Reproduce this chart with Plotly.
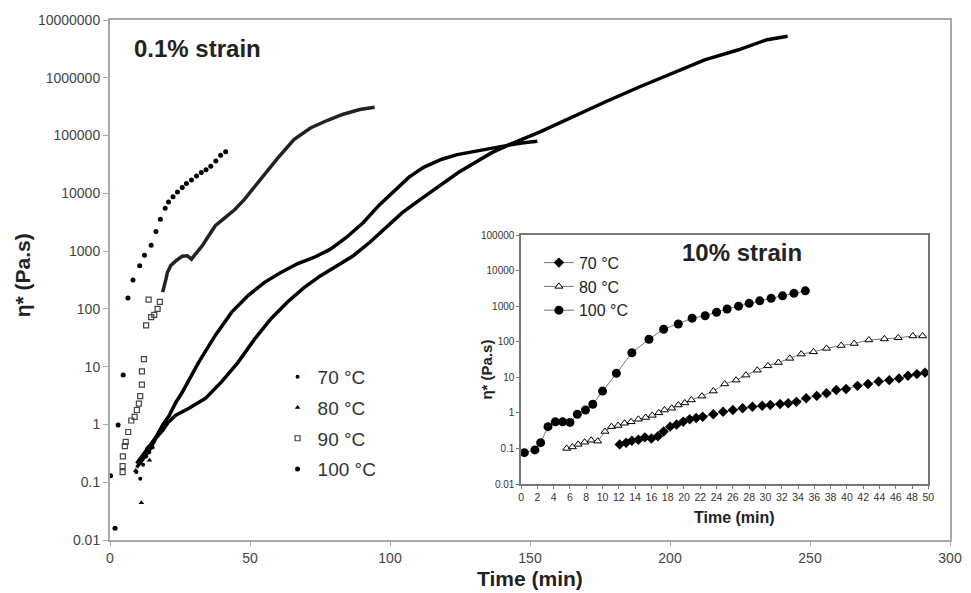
import plotly.graph_objects as go

# ---------------- main chart: 0.1% strain ----------------
t70_line = [9.5, 11, 12.5, 14, 15.5, 16.4, 18.8, 21, 23.5, 26, 28.2, 31, 34, 39.9, 45.8, 51.7, 57.5,
            63.4, 69.3, 75.1, 81, 86.9, 92.7, 98.6, 104.5, 111, 124.4, 136.2, 142, 153.8, 165.5,
            177.2, 189, 200.7, 212.4, 224.2, 234.7, 242]
eta70_line = [0.18, 0.22, 0.28, 0.35, 0.47, 0.58, 0.79, 1.12, 1.45, 1.66, 1.9, 2.3, 2.8, 5.5, 12.0,
              30.2, 67.6, 132, 234, 372, 562, 832, 1410, 2570, 4680, 7940, 22900, 50100, 67600,
              117000, 214000, 389000, 692000, 1175000, 2040000, 3020000, 4570000, 5250000]
t70_pts = [9.4, 10.8, 11.8, 12.9, 14.0, 15.2]
eta70_pts = [0.15, 0.115, 0.20, 0.28, 0.33, 0.40]

t80_line = [9.5, 11, 12.5, 14, 15.5, 16.4, 18.8, 21.1, 23.5, 25.8, 31.7, 37.6, 43.4, 49.3, 55.2, 61,
            66.9, 72.8, 78.6, 84.5, 90.4, 96.2, 102.1, 106.8, 112, 118.5, 124, 130.3, 136, 142, 147, 152.6]
eta80_line = [0.21, 0.26, 0.33, 0.42, 0.52, 0.60, 0.98, 1.41, 2.4, 3.6, 12.0, 34.7, 87, 170, 288, 427,
              603, 776, 1070, 1740, 3090, 6310, 11700, 19100, 28200, 38900, 46800, 53700, 60300,
              67600, 74100, 79400]
t80_pts = [9.2, 10.4, 11.2, 12.2, 13.4, 14.1, 15.3, 16.6]
eta80_pts = [0.16, 0.24, 0.044, 0.30, 0.40, 0.24, 0.50, 0.63]

t90_pts = [4.5, 4.5, 4.6, 5.3, 5.6, 6.5, 7.6, 8.8, 9.6, 10.3, 10.8, 11.4, 11.4, 12.1, 12.9, 13.8,
           14.7, 15.8, 17.0, 17.8]
eta90_pts = [0.15, 0.19, 0.28, 0.42, 0.50, 0.74, 1.17, 1.35, 1.78, 2.29, 3.09, 4.9, 8.3, 13.5, 52,
             145, 72, 79, 100, 132]
t90_line = [18.8, 19.1, 20.0, 20.5, 21.7, 23.5, 25.8, 27.6, 29.1, 30.5, 32.9, 35.2, 37.6, 41.1, 44.6,
            48.1, 52.8, 55.2, 59.9, 65.7, 71.6, 77.5, 83.3, 89.2, 94.5]
eta90_line = [195, 219, 331, 427, 562, 676, 813, 832, 724, 891, 1230, 1820, 2750, 3800, 5250, 7940,
              15100, 20900, 40700, 85100, 135000, 182000, 234000, 282000, 309000]

t100_pts = [0.2, 1.8, 2.9, 4.7, 6.4, 8.2, 10.6, 12.3, 14.7, 16.4, 18.0, 19.7, 20.9, 22.5, 24.1, 25.8,
            27.3, 29.1, 30.9, 32.6, 34.3, 36.0, 37.8, 39.5, 41.3]
eta100_pts = [0.13, 0.016, 0.98, 7.2, 155, 316, 560, 850, 1260, 2190, 3550, 5500, 7080, 8700, 10500,
              12600, 14800, 17000, 20000, 22900, 25700, 29500, 36300, 45700, 52500]

main_xticks = [0, 50, 100, 150, 200, 250, 300]
main_yticks = [0.01, 0.1, 1, 10, 100, 1000, 10000, 100000, 1000000, 10000000]
main_yticktext = ["0.01", "0.1", "1", "10", "100", "1000", "10000", "100000", "1000000", "10000000"]

# ---------------- inset: 10% strain ----------------
t70_in = [12.1, 12.9, 13.6, 14.4, 15.2, 16.0, 16.8, 17.5, 18.3, 19.1, 19.9, 20.7, 21.5, 22.3, 23.6,
          24.8, 26.0, 27.2, 28.4, 29.6, 30.6, 31.8, 32.8, 33.8, 35.0, 36.3, 37.5, 38.7, 39.9, 41.3,
          42.6, 43.9, 45.2, 46.4, 47.5, 48.6, 49.6]
eta70_in = [0.13, 0.145, 0.165, 0.175, 0.205, 0.19, 0.22, 0.30, 0.41, 0.47, 0.56, 0.66, 0.72, 0.78,
            0.91, 1.07, 1.2, 1.35, 1.48, 1.58, 1.66, 1.78, 1.86, 2.04, 2.57, 3.0, 3.55, 4.4, 4.7,
            5.75, 6.45, 7.6, 8.3, 9.3, 11.0, 12.3, 13.5]
t80_in = [5.6, 6.3, 7.0, 7.8, 8.6, 9.4, 10.3, 11.1, 11.9, 12.7, 13.5, 14.4, 15.3, 16.1, 16.9, 17.6,
          18.5, 19.3, 20.1, 20.9, 22.2, 23.6, 25.0, 26.4, 27.6, 29.0, 30.3, 31.6, 33.0, 34.4, 35.9,
          37.5, 39.3, 40.9, 42.7, 44.6, 46.3, 48.1, 49.3]
eta80_in = [0.10, 0.11, 0.13, 0.15, 0.17, 0.16, 0.30, 0.41, 0.44, 0.51, 0.56, 0.66, 0.74, 0.85, 1.0,
            1.2, 1.35, 1.66, 1.9, 2.3, 2.95, 4.1, 6.5, 8.3, 11.5, 15.8, 21, 26, 34, 45, 52, 65, 78,
            89, 112, 120, 129, 145, 145]
t100_in = [0.4, 1.7, 2.4, 3.3, 4.2, 5.1, 6.0, 6.9, 7.9, 8.8, 10.0, 11.7, 13.6, 15.7, 17.5, 19.3, 21.0,
           22.6, 24.0, 25.3, 26.7, 28.0, 29.3, 30.7, 32.1, 33.5, 34.9]
eta100_in = [0.076, 0.091, 0.145, 0.41, 0.56, 0.56, 0.54, 0.91, 1.2, 1.74, 4.1, 12.9, 49, 117, 224,
             316, 457, 537, 676, 832, 1000, 1200, 1410, 1660, 1950, 2290, 2690]

inset_xticks = list(range(0, 51, 2))
inset_yticks = [0.01, 0.1, 1, 10, 100, 1000, 10000, 100000]
inset_yticktext = ["0.01", "0.1", "1", "10", "100", "1000", "10000", "100000"]

FONT = "Arial, Liberation Sans, sans-serif"

fig = go.Figure()

# main curves (dense data drawn as thick lines)
fig.add_trace(go.Scatter(x=t70_line, y=eta70_line, mode="lines", line=dict(color="black", width=3.5),
                         showlegend=False, hoverinfo="skip"))
fig.add_trace(go.Scatter(x=t80_line, y=eta80_line, mode="lines", line=dict(color="black", width=3.5),
                         showlegend=False, hoverinfo="skip"))
fig.add_trace(go.Scatter(x=t90_line, y=eta90_line, mode="lines", line=dict(color="#222", width=3.5),
                         showlegend=False, hoverinfo="skip"))

# main marker series (legend)
fig.add_trace(go.Scatter(x=t70_pts, y=eta70_pts, mode="markers", name="70 °C", legendgroup="a",
                         marker=dict(symbol="circle", size=4, color="black")))
fig.add_trace(go.Scatter(x=t80_pts, y=eta80_pts, mode="markers", name="80 °C", legendgroup="b",
                         marker=dict(symbol="triangle-up", size=5, color="black")))
fig.add_trace(go.Scatter(x=t90_pts, y=eta90_pts, mode="markers", name="90 °C", legendgroup="c",
                         marker=dict(symbol="square-open", size=5, color="#444", line=dict(width=1.2))))
fig.add_trace(go.Scatter(x=t100_pts, y=eta100_pts, mode="markers", name="100 °C", legendgroup="d",
                         marker=dict(symbol="circle", size=5, color="black")))

# inset series
fig.add_trace(go.Scatter(x=t70_in, y=eta70_in, mode="lines+markers", name="70 °C", xaxis="x2", yaxis="y2",
                         legend="legend2", line=dict(color="#777", width=1),
                         marker=dict(symbol="diamond", size=8, color="black")))
fig.add_trace(go.Scatter(x=t80_in, y=eta80_in, mode="lines+markers", name="80 °C", xaxis="x2", yaxis="y2",
                         legend="legend2", line=dict(color="#777", width=1),
                         marker=dict(symbol="triangle-up", size=7, color="white",
                                     line=dict(color="black", width=1))))
fig.add_trace(go.Scatter(x=t100_in, y=eta100_in, mode="lines+markers", name="100 °C", xaxis="x2", yaxis="y2",
                         legend="legend2", line=dict(color="#777", width=1),
                         marker=dict(symbol="circle", size=9, color="black")))

fig.update_layout(
    width=971, height=593,
    margin=dict(l=110, r=9, t=20, b=53),
    paper_bgcolor="white", plot_bgcolor="white",
    font=dict(family=FONT, color="#333"),
    xaxis=dict(range=[0, 300], tickvals=main_xticks, showgrid=False, zeroline=False,
               showline=True, linecolor="#a8a8a8", linewidth=2, mirror=True,
               ticks="outside", ticklen=4, tickcolor="#a8a8a8",
               tickfont=dict(size=14, color="#444")),
    yaxis=dict(type="log", range=[-2, 7], tickvals=main_yticks, ticktext=main_yticktext,
               showgrid=False, zeroline=False, showline=True, linecolor="#a8a8a8", linewidth=2,
               mirror=True, ticks="outside", ticklen=5, tickcolor="#a8a8a8",
               tickfont=dict(size=14, color="#444")),
    xaxis2=dict(domain=[0.4894, 0.9742], anchor="y2", range=[0, 50], tickvals=inset_xticks,
                showgrid=False, zeroline=False, showline=True, linecolor="#777", linewidth=1.5,
                mirror=True, ticks="outside", ticklen=3, tickcolor="#777",
                tickfont=dict(size=10.5, color="#333")),
    yaxis2=dict(domain=[0.1077, 0.5865], anchor="x2", type="log", range=[-2, 5],
                tickvals=inset_yticks, ticktext=inset_yticktext, showgrid=False, zeroline=False,
                showline=True, linecolor="#777", linewidth=1.5, mirror=True, ticks="outside",
                ticklen=3, tickcolor="#777", tickfont=dict(size=10, color="#333")),
    legend=dict(x=0.1995, y=0.35, xanchor="left", yanchor="top", bgcolor="rgba(0,0,0,0)",
                font=dict(size=19, color="#333", family=FONT), tracegroupgap=3, itemwidth=30,
                traceorder="grouped"),
    legend2=dict(x=0.5106, y=0.566, xanchor="left", yanchor="top", bgcolor="rgba(0,0,0,0)",
                 font=dict(size=16, color="#222", family=FONT), itemwidth=30, traceorder="normal"),
    annotations=[
        dict(text="<b>0.1% strain</b>", x=0.0258, y=0.946, xref="paper", yref="paper",
             xanchor="left", yanchor="middle", showarrow=False,
             font=dict(size=24, color="#222", family=FONT)),
        dict(text="<b>10% strain</b>", x=0.752, y=0.552, xref="paper", yref="paper",
             xanchor="center", yanchor="middle", showarrow=False,
             font=dict(size=24, color="#222", family=FONT)),
        dict(text="<b>η* (Pa.s)</b>", x=-0.1045, y=0.5096, xref="paper", yref="paper",
             xanchor="center", yanchor="middle", textangle=-90, showarrow=False,
             font=dict(size=21, color="#222", family=FONT)),
        dict(text="<b>Time (min)</b>", x=0.5, y=-0.0731, xref="paper", yref="paper",
             xanchor="center", yanchor="middle", showarrow=False,
             font=dict(size=21, color="#222", family=FONT)),
        dict(text="<b>Time (min)</b>", x=0.743, y=0.0442, xref="paper", yref="paper",
             xanchor="center", yanchor="middle", showarrow=False,
             font=dict(size=16, color="#222", family=FONT)),
        dict(text="<b>η* (Pa.s)</b>", x=0.4484, y=0.327, xref="paper", yref="paper",
             xanchor="center", yanchor="middle", textangle=-90, showarrow=False,
             font=dict(size=15, color="#222", family=FONT)),
    ],
)

fig.write_html("out.html", config={"displayModeBar": False},
               post_script="document.body.style.margin='0';document.body.style.padding='0';")
